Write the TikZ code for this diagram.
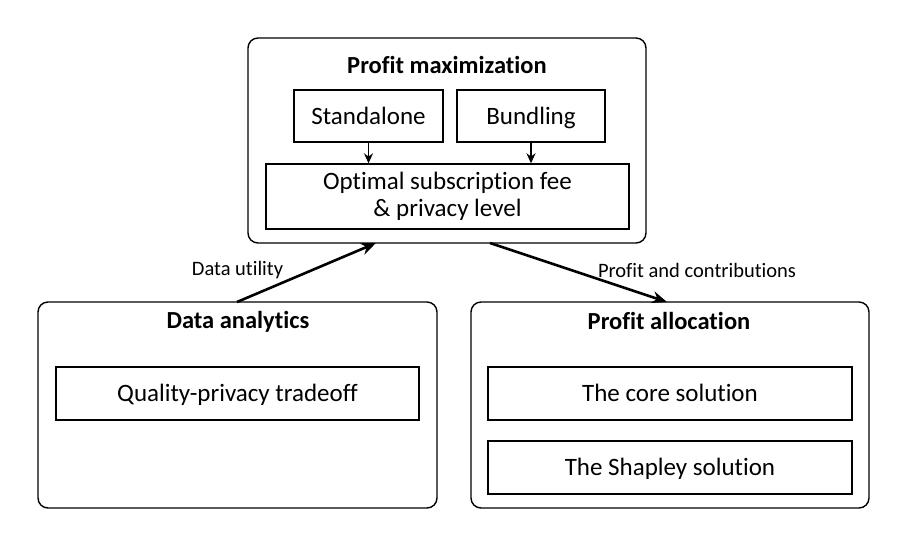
\documentclass[tikz,border=0pt]{standalone}
\usepackage{fontspec}
\setmainfont[Ligatures=NoCommon,RawFeature={-liga;-clig}]{Carlito}
\usetikzlibrary{arrows.meta}
\begin{document}
\begin{tikzpicture}[x=1pt,y=-1pt,
  outerbox/.style={draw,line width=1.4pt,rounded corners=10pt,minimum width=#1,inner sep=0pt},
  innerbox/.style={draw,line width=1.4pt,inner sep=0pt,align=center,font=\fontsize{25}{30}\selectfont},
  oneline/.style={text height=19pt,text depth=3pt},
  titletxt/.style={font=\fontsize{24.5}{29}\selectfont\bfseries},
  lbl/.style={font=\fontsize{20.5}{24}\selectfont},
  bigarrow/.style={line width=2.6pt,-{Stealth[length=15pt,width=12pt]}},
  smallarrow/.style={line width=1.6pt,-{Stealth[length=10pt,width=9pt]}}]
\useasboundingbox (0,0) rectangle (907,547);
% top group
\node (top) [outerbox=398pt, minimum height=205pt] at (447,140.5) {};
\node (toptitle) [titletxt, oneline] at (447,65) {Profit maximization};
\node (sa) [innerbox, oneline, minimum width=149pt, minimum height=52pt] at (368.5,116) {Standalone};
\node (bu) [innerbox, oneline, minimum width=148pt, minimum height=52pt] at (531,116) {Bundling};
\node (opt) [innerbox, minimum width=363pt, minimum height=65pt] at (447.5,196.5) {Optimal subscription fee\\[-3pt]\& privacy level};
\draw[smallarrow] (sa.south) -- (sa.south |- opt.north);
\draw[smallarrow] (bu.south) -- (bu.south |- opt.north);
% left group
\node (left) [outerbox=399pt, minimum height=206pt] at (237.5,405) {};
\node (lefttitle) [titletxt, oneline] at (238,320) {Data analytics};
\node (qp) [innerbox, oneline, minimum width=363pt, minimum height=53pt] at (237.5,393.5) {Quality-privacy tradeoff};
% right group
\node (right) [outerbox=398pt, minimum height=206pt] at (670,405) {};
\node (righttitle) [titletxt, oneline] at (669,321) {Profit allocation};
\node (core) [innerbox, oneline, minimum width=364pt, minimum height=53pt] at (670,393.5) {The core solution};
\node (shap) [innerbox, oneline, minimum width=364pt, minimum height=53pt] at (670,467.5) {The Shapley solution};
% connectors
\coordinate (a1s) at (237,302);
\coordinate (a1e) at (376,243);
\coordinate (a2s) at (490,243);
\coordinate (a2e) at (667,302);
\draw[bigarrow] (a1s) -- (a1e);
\draw[bigarrow] (a2s) -- (a2e);
\node (l1) [lbl] at (237.5,270) {Data utility};
\node (l2) [lbl] at (697,270) {Profit and contributions};
\end{tikzpicture}
\end{document}
